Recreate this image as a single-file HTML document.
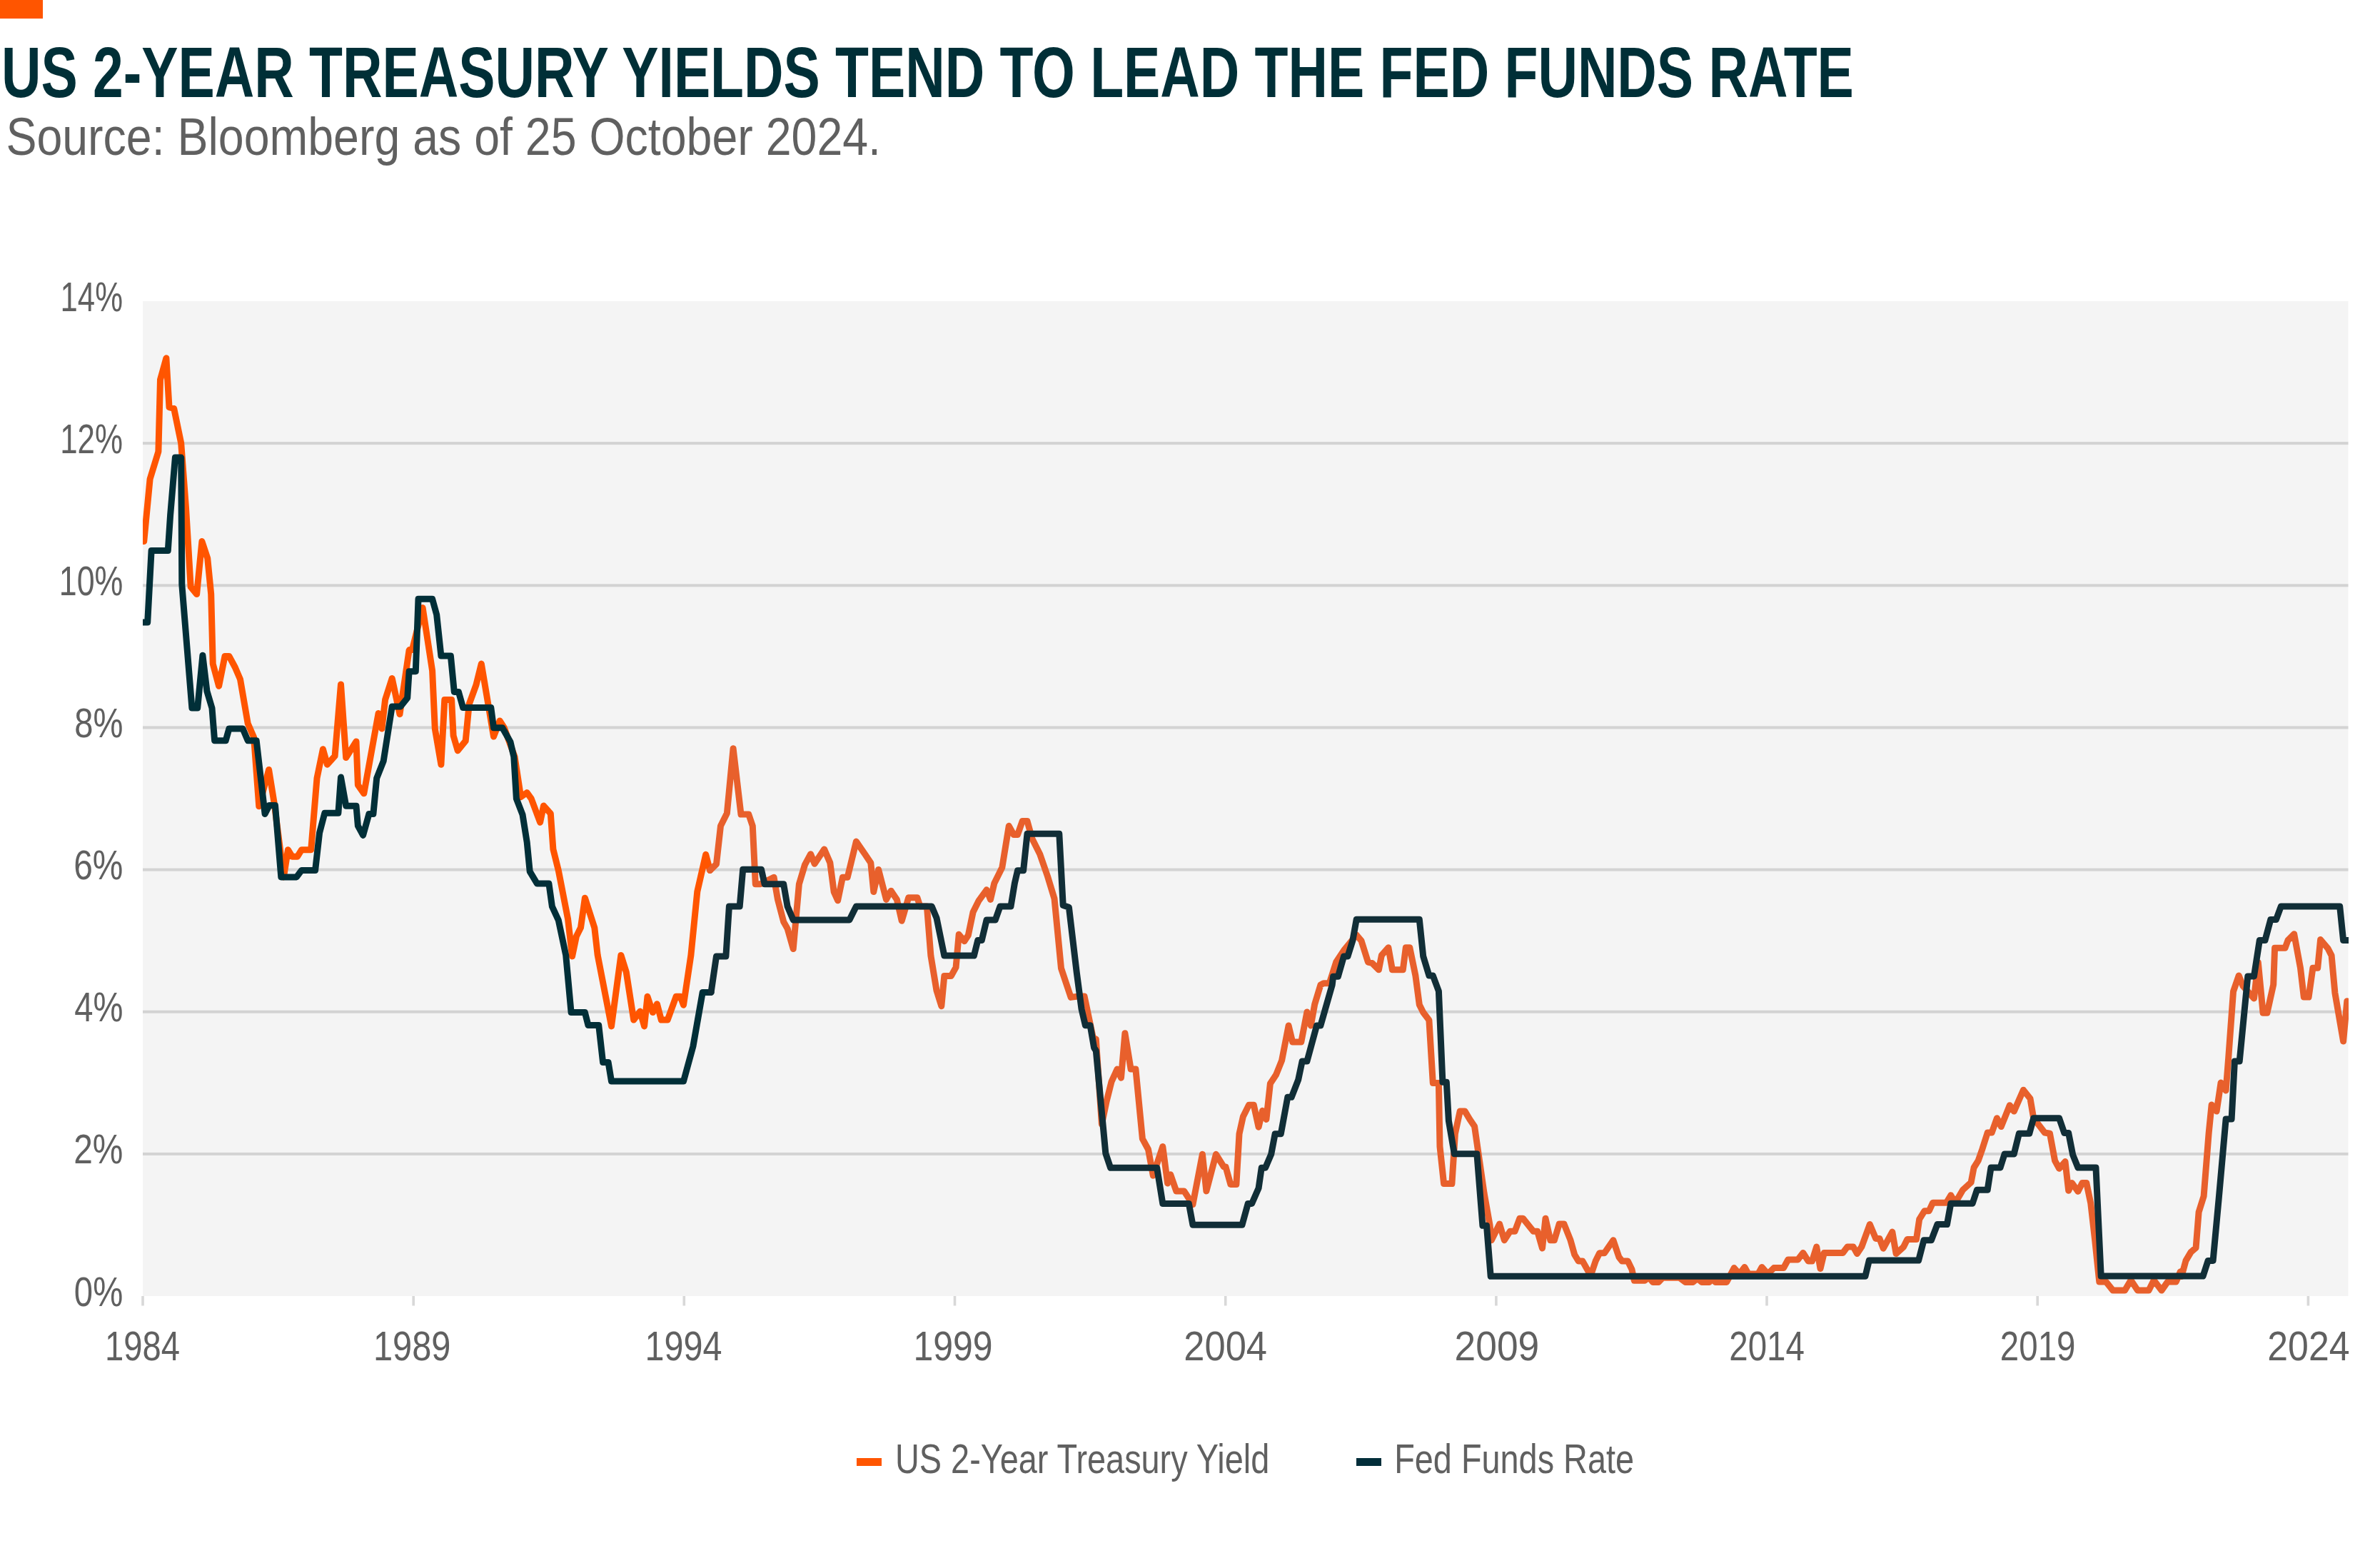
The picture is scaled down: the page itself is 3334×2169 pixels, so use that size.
<!DOCTYPE html>
<html><head><meta charset="utf-8"><style>html,body{margin:0;padding:0;background:#fff;overflow:hidden}svg{display:block}text{font-family:"Liberation Sans",sans-serif}</style></head>
<body><svg width="3334" height="2169" viewBox="0 0 3334 2169">
<rect x="0" y="0" width="60" height="26" fill="#FF5500"/>
<text x="2.0" y="136" font-size="100" font-weight="bold" fill="#002F37" textLength="2594.811982601458" lengthAdjust="spacingAndGlyphs">US 2-YEAR TREASURY YIELDS TEND TO LEAD THE FED FUNDS RATE</text>
<text x="8.400000000000002" y="217" font-size="74" fill="#606060" textLength="1225.6272075262877" lengthAdjust="spacingAndGlyphs">Source: Bloomberg as of 25 October 2024.</text>
<rect x="200" y="422" width="3089.5" height="1394" fill="#F4F4F4"/>
<rect x="200" y="1614.9" width="3089.5" height="4" fill="#D3D3D3"/>
<rect x="200" y="1415.7" width="3089.5" height="4" fill="#D3D3D3"/>
<rect x="200" y="1216.6" width="3089.5" height="4" fill="#D3D3D3"/>
<rect x="200" y="1017.4" width="3089.5" height="4" fill="#D3D3D3"/>
<rect x="200" y="818.3" width="3089.5" height="4" fill="#D3D3D3"/>
<rect x="200" y="619.1" width="3089.5" height="4" fill="#D3D3D3"/>
<text x="172.19999999999993" y="1829.5" font-size="58" fill="#606060" text-anchor="end" textLength="68.32896618401783" lengthAdjust="spacingAndGlyphs">0%</text>
<text x="172.40000000000003" y="1630.4" font-size="58" fill="#606060" text-anchor="end" textLength="69.14513027471462" lengthAdjust="spacingAndGlyphs">2%</text>
<text x="172.40000000000003" y="1431.2" font-size="58" fill="#606060" text-anchor="end" textLength="68.14587584525297" lengthAdjust="spacingAndGlyphs">4%</text>
<text x="172.40000000000003" y="1232.1" font-size="58" fill="#606060" text-anchor="end" textLength="69.14513027471462" lengthAdjust="spacingAndGlyphs">6%</text>
<text x="172.40000000000003" y="1032.9" font-size="58" fill="#606060" text-anchor="end" textLength="68.11410620616428" lengthAdjust="spacingAndGlyphs">8%</text>
<text x="172.40000000000003" y="833.8" font-size="58" fill="#606060" text-anchor="end" textLength="89.59106149432266" lengthAdjust="spacingAndGlyphs">10%</text>
<text x="172.0" y="634.6" font-size="58" fill="#606060" text-anchor="end" textLength="87.86682479625074" lengthAdjust="spacingAndGlyphs">12%</text>
<text x="172.0" y="435.5" font-size="58" fill="#606060" text-anchor="end" textLength="87.44867986288376" lengthAdjust="spacingAndGlyphs">14%</text>
<rect x="198.2" y="1816" width="3.6" height="13.5" fill="#D8D8D8"/>
<text x="199.4" y="1906" font-size="57" fill="#606060" text-anchor="middle" textLength="105.04111884636815" lengthAdjust="spacingAndGlyphs">1984</text>
<rect x="577.4" y="1816" width="3.6" height="13.5" fill="#D8D8D8"/>
<text x="577.2" y="1906" font-size="57" fill="#606060" text-anchor="middle" textLength="108.42929322841199" lengthAdjust="spacingAndGlyphs">1989</text>
<rect x="956.5" y="1816" width="3.6" height="13.5" fill="#D8D8D8"/>
<text x="957.4" y="1906" font-size="57" fill="#606060" text-anchor="middle" textLength="108.02076423931759" lengthAdjust="spacingAndGlyphs">1994</text>
<rect x="1335.7" y="1816" width="3.6" height="13.5" fill="#D8D8D8"/>
<text x="1335.0" y="1906" font-size="57" fill="#606060" text-anchor="middle" textLength="111.184106509654" lengthAdjust="spacingAndGlyphs">1999</text>
<rect x="1714.9" y="1816" width="3.6" height="13.5" fill="#D8D8D8"/>
<text x="1716.7" y="1906" font-size="57" fill="#606060" text-anchor="middle" textLength="116.72861392887803" lengthAdjust="spacingAndGlyphs">2004</text>
<rect x="2094.1" y="1816" width="3.6" height="13.5" fill="#D8D8D8"/>
<text x="2096.9" y="1906" font-size="57" fill="#606060" text-anchor="middle" textLength="118.5952630227349" lengthAdjust="spacingAndGlyphs">2009</text>
<rect x="2473.2" y="1816" width="3.6" height="13.5" fill="#D8D8D8"/>
<text x="2475.1" y="1906" font-size="57" fill="#606060" text-anchor="middle" textLength="105.69738147231014" lengthAdjust="spacingAndGlyphs">2014</text>
<rect x="2852.4" y="1816" width="3.6" height="13.5" fill="#D8D8D8"/>
<text x="2854.7" y="1906" font-size="57" fill="#606060" text-anchor="middle" textLength="105.69738147231013" lengthAdjust="spacingAndGlyphs">2019</text>
<rect x="3231.6" y="1816" width="3.6" height="13.5" fill="#D8D8D8"/>
<text x="3233.9" y="1906" font-size="57" fill="#606060" text-anchor="middle" textLength="115.26923076923077" lengthAdjust="spacingAndGlyphs">2024</text>
<rect x="1200" y="2043" width="35" height="11" fill="#FF5500"/>
<text x="1254.0" y="2064" font-size="57" fill="#606060" textLength="524.2309791593266" lengthAdjust="spacingAndGlyphs">US 2-Year Treasury Yield</text>
<rect x="1900" y="2043" width="35" height="11" fill="#022E3A"/>
<text x="1953.2000000000003" y="2064" font-size="57" fill="#606060" textLength="335.8526127605551" lengthAdjust="spacingAndGlyphs">Fed Funds Rate</text>
<clipPath id="pc"><rect x="200" y="402" width="3090.0" height="1434"/></clipPath><g clip-path="url(#pc)">
<path d="M201.7,758.6 L210.1,671.3 L221.9,632.7 L224.5,532.0 L232.9,501.8 L237.0,570.6 L243.7,572.3 L253.7,621.0 L260.5,711.6 L267.2,822.4 L275.6,832.5 L282.9,758.6 L290.7,782.1 L295.7,832.5 L298.2,930.2 L306.6,961.3 L315.0,919.4 L320.9,919.4 L329.3,935.0 L336.5,951.7 L347.2,1013.8 L355.6,1033.0 L362.8,1129.8 L376.6,1078.4 L384.3,1126.2 L397.4,1228.9 L403.4,1190.7 L409.4,1200.3 L416.5,1200.3 L422.5,1190.7 L435.7,1190.7 L444.0,1090.3 L452.4,1049.7 L458.4,1071.2 L469.1,1059.3 L477.5,958.9 L484.7,1061.6 L499.0,1038.9 L501.4,1099.9 L509.8,1111.8 L530.1,999.5 L534.9,1021.0 L539.6,980.4 L549.2,950.5 L560.0,1000.7 L573.1,911.1 L573.7,910.5 L577.4,910.5 L592.1,851.6 L605.6,939.9 L609.3,1021.0 L617.9,1071.3 L622.8,980.5 L632.6,980.5 L635.1,1030.8 L641.2,1051.7 L652.2,1038.2 L657.2,986.6 L667.0,959.6 L674.3,930.1 L691.5,1032.0 L700.1,1009.9 L706.3,1019.7 L721.0,1060.3 L729.6,1116.7 L738.2,1110.6 L744.3,1119.2 L756.6,1152.3 L761.5,1129.0 L771.3,1140.0 L774.9,1189.9 L782.3,1219.6 L795.6,1287.9 L801.6,1339.9 L807.5,1311.7 L813.5,1299.8 L819.4,1258.2 L832.8,1299.8 L837.2,1338.4 L856.5,1437.9 L869.9,1338.4 L877.3,1362.2 L887.7,1429.0 L896.6,1417.1 L902.6,1437.9 L907.0,1396.3 L914.4,1418.6 L920.4,1406.7 L926.3,1429.0 L935.2,1429.0 L947.1,1396.3 L953.1,1396.3 L957.5,1408.2 L967.9,1338.4 L976.8,1249.3 L988.7,1197.3 L994.6,1219.6" fill="none" stroke="#FF5500" stroke-width="9" stroke-linejoin="round" stroke-linecap="round"/>
<path d="M994.6,1219.6 L1003.5,1210.7 L1009.5,1157.2 L1018.4,1139.4 L1027.1,1048.8 L1038.0,1141.1 L1048.8,1141.1 L1054.3,1157.4 L1058.3,1238.7 L1065.1,1238.7 L1076.0,1233.3 L1084.1,1229.2 L1089.5,1260.4 L1097.7,1291.6 L1103.1,1301.1 L1111.2,1329.6 L1119.4,1238.7 L1127.5,1211.6 L1135.6,1196.7 L1141.1,1210.3 L1154.6,1189.9 L1162.8,1208.9 L1168.2,1249.6 L1173.6,1261.8 L1180.4,1229.2 L1187.2,1229.2 L1199.4,1179.1 L1211.6,1196.7 L1219.8,1208.9 L1223.8,1249.6 L1230.6,1218.4 L1241.5,1260.4 L1248.2,1248.2 L1256.4,1260.4 L1263.2,1290.3 L1272.7,1257.7 L1284.9,1257.7 L1288.9,1269.9 L1298.4,1269.9 L1303.9,1339.1 L1312.0,1388.0 L1318.8,1409.7 L1322.8,1367.6 L1332.3,1367.6 L1339.1,1355.4 L1343.2,1309.3 L1350.0,1317.4 L1350.9,1318.7 L1356.3,1310.6 L1363.1,1278.0 L1371.2,1261.8 L1382.1,1246.8 L1387.5,1260.4 L1392.9,1237.4 L1403.8,1215.6 L1413.3,1157.3 L1420.0,1169.5 L1425.5,1169.5 L1432.2,1150.5 L1439.0,1150.5 L1445.8,1175.0 L1456.7,1196.7 L1467.5,1227.9 L1477.0,1259.1 L1486.5,1356.7 L1500.1,1397.4 L1509.6,1396.1 L1519.1,1396.1 L1531.3,1454.4 L1535.3,1455.9 L1543.4,1575.3 L1550.2,1542.7 L1557.0,1515.6 L1565.1,1498.0 L1570.5,1510.2 L1575.9,1447.8 L1584.1,1498.0 L1590.9,1498.0 L1600.4,1595.6 L1608.5,1610.5 L1615.3,1647.2 L1628.8,1606.5 L1635.6,1658.0 L1639.7,1645.8 L1647.8,1668.9 L1658.7,1668.9 L1670.9,1687.8 L1684.4,1617.3 L1689.9,1668.9 L1703.4,1617.3 L1714.3,1634.9 L1717.0,1634.9 L1723.8,1659.4 L1731.9,1659.4 L1736.0,1588.8 L1741.4,1564.4 L1749.5,1548.2 L1756.3,1548.2 L1763.1,1579.3 L1768.5,1556.3 L1773.9,1568.5 L1779.4,1518.3 L1787.5,1506.1 L1795.6,1485.8 L1805.1,1437.0 L1810.6,1460.0 L1822.8,1460.0 L1830.9,1418.0 L1836.3,1437.0 L1841.7,1407.1 L1849.9,1380.0 L1854.1,1377.8 L1862.2,1377.8 L1871.7,1348.0 L1882.5,1331.7 L1900.2,1310.0 L1907.0,1318.2 L1916.4,1348.0 L1921.9,1349.3 L1931.4,1358.8 L1935.4,1338.5 L1944.9,1327.7 L1950.4,1358.8 L1965.3,1358.8 L1969.3,1327.7 L1974.8,1327.7 L1982.9,1367.0 L1988.3,1407.7 L1993.7,1418.5 L2001.9,1429.4 L2007.3,1517.5 L2015.4,1517.5 L2017.0,1606.6 L2022.6,1658.6 L2033.9,1658.6 L2038.4,1588.5 L2045.2,1556.9 L2052.0,1556.9 L2058.8,1568.2 L2065.6,1578.3 L2079.1,1672.1 L2087.0,1716.2 L2089.3,1737.7 L2100.6,1715.1 L2107.4,1737.7 L2115.3,1725.3 L2122.1,1725.3 L2128.8,1707.2 L2133.4,1707.2 L2148.1,1725.3 L2153.7,1725.3 L2160.5,1749.0 L2165.0,1707.2 L2171.8,1737.7 L2177.4,1737.7 L2184.2,1715.1 L2191.0,1715.1 L2200.0,1737.7 L2205.7,1758.0 L2211.3,1767.1 L2217.0,1767.1 L2228.3,1787.4 L2235.1,1767.1 L2240.7,1755.8 L2247.5,1755.8 L2259.9,1737.7 L2267.9,1761.4 L2272.4,1767.1 L2280.3,1767.1 L2285.9,1778.4 L2289.3,1794.2 L2304.0,1794.2 L2309.7,1789.7 L2315.3,1796.5 L2323.2,1796.5 L2329.4,1790.2 L2352.5,1790.2 L2360.9,1796.5 L2371.4,1796.5 L2377.7,1791.3 L2384.0,1796.5 L2394.5,1796.5 L2398.7,1791.3 L2402.9,1796.5 L2418.7,1796.5 L2429.2,1776.6 L2436.6,1785.0 L2443.9,1775.5 L2449.2,1785.0 L2462.8,1785.0 L2468.1,1775.5 L2476.5,1785.0 L2484.9,1776.6 L2498.5,1776.6 L2504.8,1765.0 L2518.5,1765.0 L2525.8,1755.5 L2533.2,1767.1 L2538.4,1767.1 L2544.7,1747.1 L2550.0,1777.6 L2555.3,1755.5 L2581.5,1755.5 L2587.8,1747.1 L2596.2,1747.1 L2601.5,1756.6 L2607.8,1747.1 L2619.3,1715.6 L2627.7,1735.6 L2633.0,1735.6 L2638.2,1749.2 L2650.8,1726.1 L2656.1,1756.6 L2666.6,1747.1 L2671.8,1736.6 L2684.5,1736.6 L2688.7,1708.3 L2696.0,1696.7 L2702.3,1696.7 L2707.6,1685.2 L2726.5,1685.2 L2732.8,1674.7 L2739.1,1685.2 L2749.6,1667.3 L2761.1,1656.8 L2765.1,1636.0 L2771.1,1626.4 L2777.0,1609.7 L2784.2,1587.0 L2790.2,1587.0 L2797.4,1566.7 L2803.3,1578.6 L2815.3,1548.7 L2821.3,1557.1 L2834.4,1527.2 L2844.0,1539.2 L2848.7,1566.7 L2864.3,1587.0 L2871.5,1588.2 L2878.6,1626.4 L2884.6,1637.2 L2893.0,1627.6 L2897.7,1668.3 L2902.5,1657.5 L2910.9,1669.4 L2916.9,1657.5 L2922.8,1657.5 L2928.8,1686.2 L2934.8,1738.8 L2940.8,1796.1 L2950.3,1796.1 L2959.9,1808.1 L2976.6,1808.1 L2985.0,1793.7 L2994.5,1808.1 L3010.1,1808.1 L3017.2,1793.7 L3028.0,1808.1 L3036.4,1796.1 L3048.3,1796.1 L3054.3,1781.8 L3056.0,1788.4 L3062.0,1766.4 L3069.1,1754.4 L3076.1,1748.3 L3080.1,1698.3 L3087.1,1676.2 L3094.1,1588.1 L3098.1,1548.1 L3105.1,1557.1 L3111.1,1517.0 L3118.1,1528.0 L3121.7,1482.3 L3128.5,1389.3 L3136.2,1367.0 L3142.0,1381.5 L3157.5,1398.9 L3163.3,1348.5 L3170.1,1419.3 L3175.9,1419.3 L3184.7,1379.6 L3186.6,1328.2 L3201.1,1328.2 L3205.0,1317.5 L3213.7,1308.8 L3222.5,1356.3 L3227.3,1397.0 L3234.1,1397.0 L3239.9,1356.3 L3246.7,1356.3 L3250.6,1316.6 L3261.2,1329.2 L3266.1,1338.9 L3270.9,1391.2 L3282.6,1459.0 L3287.8,1402.8" fill="none" stroke="#E8602C" stroke-width="9" stroke-linejoin="round" stroke-linecap="round"/>
<path d="M196.0,872.1 L206.7,872.1 L212.1,771.4 L235.3,771.4 L238.6,721.7 L245.4,641.1 L253.7,641.1 L254.8,819.0 L268.9,992.1 L276.7,992.1 L283.9,918.2 L289.9,968.4 L297.0,992.3 L300.6,1037.7 L316.2,1037.7 L320.9,1021.0 L340.1,1021.0 L347.2,1037.7 L359.2,1037.7 L371.1,1140.5 L377.1,1128.6 L385.5,1128.6 L393.8,1228.9 L415.4,1228.9 L422.5,1219.4 L441.6,1219.4 L447.6,1166.8 L454.8,1139.3 L473.9,1139.3 L477.5,1089.1 L484.7,1129.2 L499.0,1129.2 L501.4,1157.2 L508.6,1170.4 L516.9,1140.5 L522.9,1140.5 L527.7,1090.3 L537.2,1066.4 L549.2,989.9 L561.1,989.9 L570.7,978.0 L573.1,940.7 L574.9,940.7 L582.3,940.7 L586.0,839.3 L605.6,839.3 L611.7,861.4 L617.9,919.1 L631.4,919.1 L636.3,969.4 L642.4,969.4 L648.6,991.5 L687.8,991.5 L691.5,1019.7 L703.8,1019.7 L714.9,1039.4 L719.8,1060.3 L723.4,1119.2 L732.0,1141.3 L738.2,1180.1 L742.2,1221.1 L752.3,1238.0 L768.9,1238.0 L773.4,1270.1 L782.3,1289.4 L792.7,1338.4 L800.1,1418.6 L819.4,1418.6 L823.9,1436.4 L838.7,1436.4 L844.6,1488.4 L852.1,1488.4 L856.5,1515.1 L957.5,1515.1 L970.9,1466.1 L984.2,1390.4 L996.1,1390.4" fill="none" stroke="#012F38" stroke-width="9" stroke-linejoin="round" stroke-linecap="round"/>
<path d="M996.1,1390.4 L1003.5,1339.9 L1016.9,1339.9 L1021.4,1270.1 L1036.2,1270.1 L1040.7,1218.2 L1066.5,1218.2 L1071.1,1238.7 L1097.7,1238.7 L1103.1,1269.9 L1111.2,1288.9 L1189.9,1288.9 L1199.4,1269.9 L1305.2,1269.9 L1312.0,1286.2 L1322.8,1339.1 L1350.0,1339.1 L1364.4,1339.1 L1369.8,1317.4 L1375.3,1317.4 L1382.1,1288.9 L1394.3,1288.9 L1401.0,1269.9 L1416.0,1269.9 L1421.4,1237.4 L1425.5,1219.7 L1433.6,1219.7 L1439.0,1168.2 L1483.8,1168.2 L1489.2,1268.6 L1497.4,1271.3 L1508.2,1362.1 L1515.0,1413.7 L1520.4,1436.8 L1527.2,1436.8 L1532.6,1468.0 L1535.3,1472.2 L1548.8,1616.0 L1555.6,1636.3 L1620.7,1636.3 L1628.8,1686.5 L1665.4,1686.5 L1670.9,1716.3 L1740.0,1716.3 L1748.2,1686.5 L1753.6,1686.5 L1763.1,1664.8 L1767.2,1636.3 L1772.6,1636.3 L1780.7,1617.3 L1786.1,1588.8 L1794.3,1588.8 L1803.8,1537.3 L1809.2,1537.3 L1818.7,1512.9 L1824.1,1487.1 L1830.9,1487.1 L1844.5,1437.0 L1849.9,1437.0 L1866.2,1380.0 L1867.6,1368.3 L1874.4,1368.3 L1882.5,1339.9 L1888.0,1339.9 L1894.8,1318.2 L1900.2,1288.3 L1988.3,1288.3 L1993.7,1339.9 L2001.9,1367.0 L2007.3,1367.0 L2015.4,1388.7 L2020.9,1516.2 L2026.3,1516.2 L2029.4,1570.4 L2037.3,1616.8 L2068.9,1616.8 L2076.9,1717.3 L2082.5,1717.3 L2088.2,1788.3 L2300.0,1788.3 L2613.0,1788.3 L2618.3,1766.1 L2687.6,1766.1 L2695.0,1737.7 L2705.5,1737.7 L2713.9,1715.6 L2727.5,1715.6 L2732.8,1686.2 L2763.2,1686.2 L2769.5,1667.2 L2783.2,1667.2 L2784.2,1667.2 L2789.0,1636.0 L2802.1,1636.0 L2808.1,1616.9 L2821.3,1616.9 L2828.4,1588.2 L2842.8,1588.2 L2848.7,1566.7 L2884.6,1566.7 L2891.8,1587.6 L2897.7,1587.6 L2903.7,1618.1 L2910.9,1636.0 L2936.0,1636.0 L2943.2,1788.0 L3060.0,1788.0 L3086.1,1788.0 L3093.1,1766.4 L3100.1,1766.4 L3108.1,1680.3 L3118.1,1568.1 L3126.1,1568.1 L3130.4,1487.1 L3137.2,1487.1 L3148.8,1367.9 L3157.5,1367.9 L3165.3,1317.5 L3173.0,1317.5 L3180.8,1288.5 L3188.5,1288.5 L3195.3,1270.0 L3277.7,1270.0 L3282.6,1317.5 L3297.1,1317.5" fill="none" stroke="#112E37" stroke-width="9" stroke-linejoin="round" stroke-linecap="round"/>
</g>
</svg></body></html>
